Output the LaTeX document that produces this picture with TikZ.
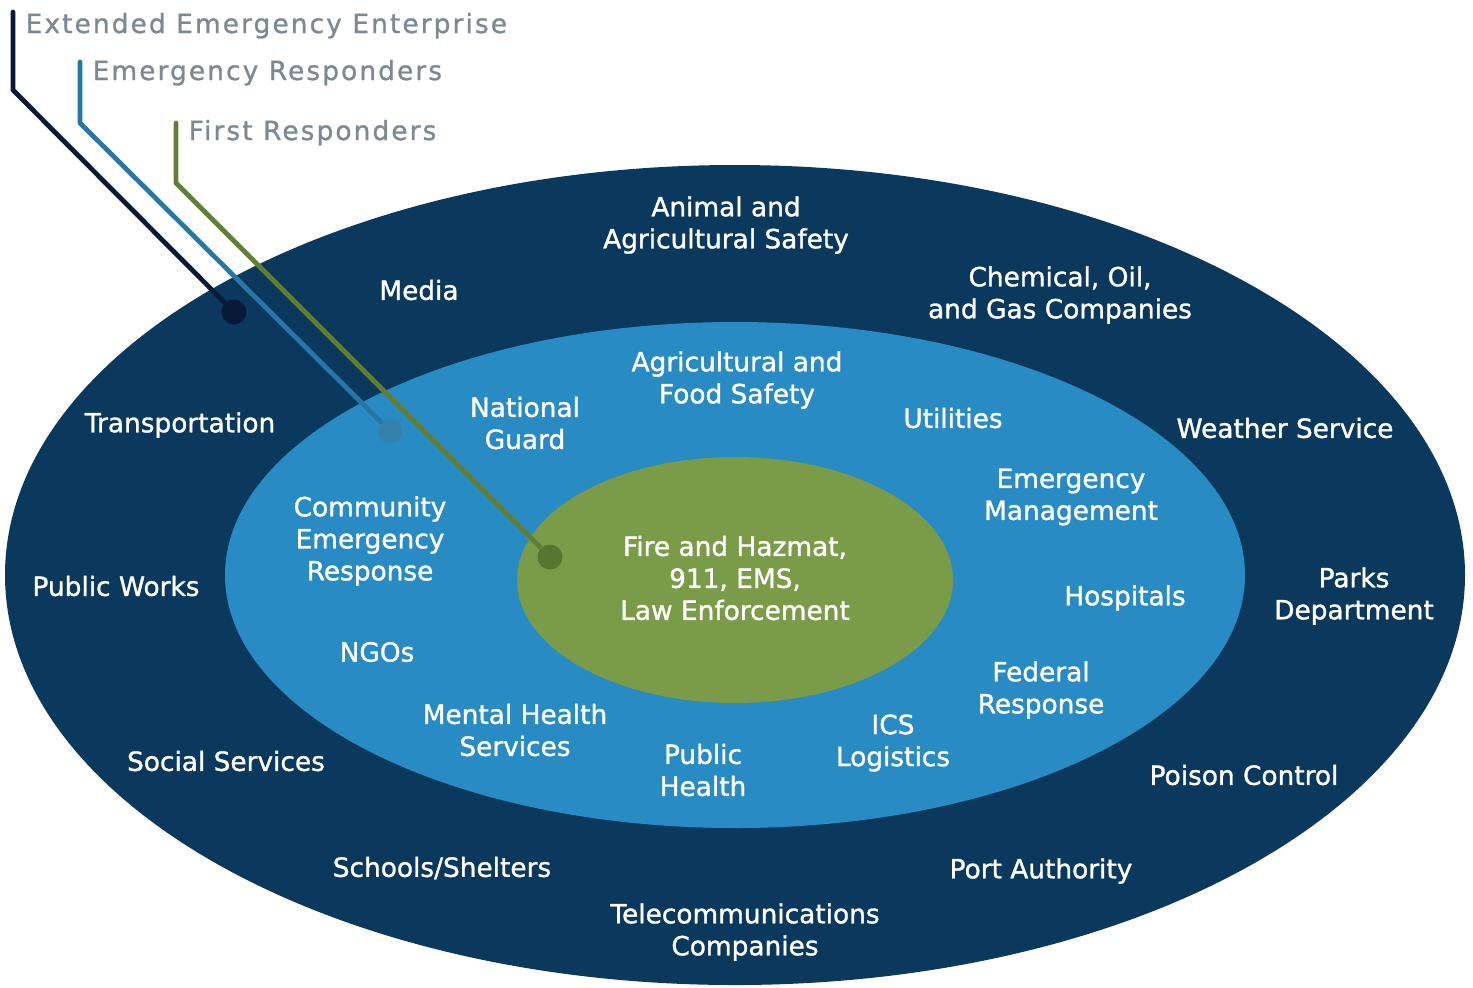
\documentclass[tikz,border=0pt]{standalone}
\usepackage{fontspec}
\setmainfont{DejaVu Sans}[RawFeature={embolden=1.2}]
\newfontfamily\spacedfont[LetterSpace=8, RawFeature={embolden=1}]{DejaVu Sans}
\definecolor{outerblue}{RGB}{11,57,94}
\definecolor{midblue}{RGB}{41,139,196}
\definecolor{coregreen}{RGB}{122,155,72}
\definecolor{linenavy}{RGB}{10,25,55}
\definecolor{lineblue}{RGB}{38,118,166}
\definecolor{dotblue}{RGB}{52,128,172}
\definecolor{linegreen}{RGB}{96,126,54}
\definecolor{dotgreen}{RGB}{88,118,48}
\definecolor{titlegray}{RGB}{122,137,148}
\begin{document}
\begin{tikzpicture}[x=0.01cm, y=-0.01cm, line cap=round, line join=round, font=\fontsize{7.5}{9.1}\selectfont]
	\tikzset{lbl/.style={text=white, align=center, inner sep=0pt},
		title/.style={text=titlegray, anchor=base west, inner sep=0pt, font=\spacedfont\fontsize{7.5}{9.1}\selectfont},
		leader/.style={line width=1.35pt},
		dot/.style={circle, inner sep=0pt, minimum size=0.25cm}}
	\useasboundingbox (0,0) rectangle (1473,987);
	% rings
	\fill[outerblue] (735,575) ellipse [x radius=730, y radius=410];
	\fill[midblue] (735,575) ellipse [x radius=510, y radius=253];
	\fill[coregreen] (735,580) ellipse [x radius=218, y radius=123];
	% titles
	\node[title] (extended) at (25,33) {Extended Emergency Enterprise};
	\node[title] (responders) at (92,80) {Emergency Responders};
	\node[title] (first) at (188,140) {First Responders};
	% leaders
	\coordinate (extTop) at (13,12);
	\coordinate (extBend) at (13,90);
	\coordinate (respTop) at (80,62);
	\coordinate (respBend) at (80,123);
	\coordinate (firstTop) at (176,123);
	\coordinate (firstBend) at (176,183);
	\node[dot, fill=linenavy] (extDot) at (234,312) {};
	\node[dot, fill=dotblue] (respDot) at (390,431) {};
	\node[dot, fill=dotgreen] (firstDot) at (550,557) {};
	\draw[leader, linenavy] (extTop) -- (extBend) -- (extDot);
	\draw[leader, lineblue] (respTop) -- (respBend) -- (respDot);
	\draw[leader, linegreen] (firstTop) -- (firstBend) -- (firstDot);
	% outer ring
	\node[lbl] (animal) at (726,225) {Animal and\\Agricultural Safety};
	\node[lbl] (media) at (419,290) {Media};
	\node[lbl] (chemical) at (1060,295) {Chemical, Oil,\\and Gas Companies};
	\node[lbl] (transport) at (180,425) {Transportation};
	\node[lbl] (weather) at (1285,428) {Weather Service};
	\node[lbl] (works) at (116,586) {Public Works};
	\node[lbl] (parks) at (1354,596) {Parks\\Department};
	\node[lbl] (social) at (226,761) {Social Services};
	\node[lbl] (poison) at (1244,775) {Poison Control};
	\node[lbl] (schools) at (442,868) {Schools/Shelters};
	\node[lbl] (port) at (1041,871) {Port Authority};
	\node[lbl] (telecom) at (745,932) {Telecommunications\\Companies};
	% middle ring
	\node[lbl] (food) at (737,380) {Agricultural and\\Food Safety};
	\node[lbl] (guard) at (525,423) {National\\Guard};
	\node[lbl] (utilities) at (953,418) {Utilities};
	\node[lbl] (community) at (370,541) {Community\\Emergency\\Response};
	\node[lbl] (management) at (1071,497) {Emergency\\Management};
	\node[lbl] (hospitals) at (1125,598) {Hospitals};
	\node[lbl] (ngos) at (377,652) {NGOs};
	\node[lbl] (federal) at (1041,690) {Federal\\Response};
	\node[lbl] (mental) at (515,730) {Mental Health\\Services};
	\node[lbl] (ics) at (893,743) {ICS\\Logistics};
	\node[lbl] (health) at (703,770) {Public\\Health};
	% core
	\node[lbl] (core) at (735,578) {Fire and Hazmat,\\911, EMS,\\Law Enforcement};
\end{tikzpicture}
\end{document}
